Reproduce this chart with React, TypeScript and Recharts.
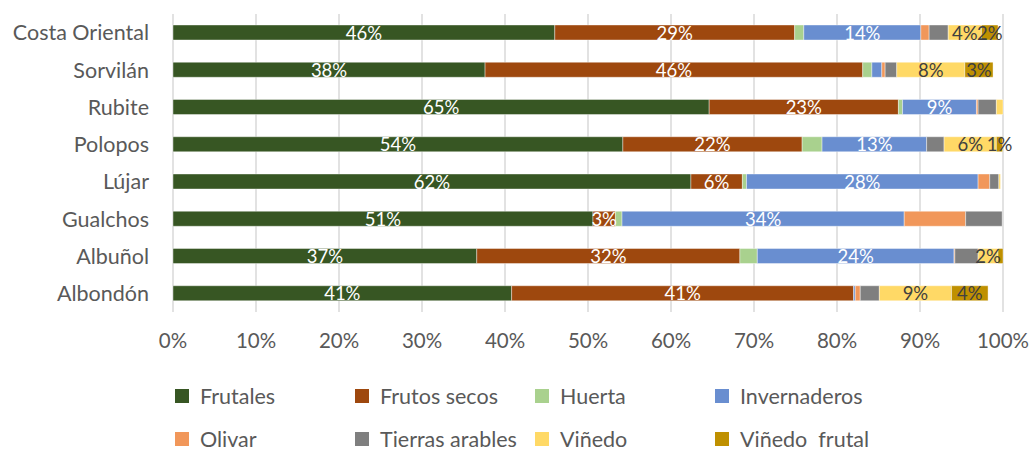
import React from 'react';
import { BarChart, Bar, XAxis, YAxis, CartesianGrid, LabelList, Legend } from 'recharts';

const categories = ['Costa Oriental', 'Sorvilán', 'Rubite', 'Polopos', 'Lújar', 'Gualchos', 'Albuñol', 'Albondón'];

const frutales = [46.0, 37.6, 64.6, 54.2, 62.4, 50.6, 36.6, 40.8];
const frutosSecos = [28.9, 45.5, 22.8, 21.6, 6.2, 2.7, 31.7, 41.2];
const huerta = [1.1, 1.1, 0.5, 2.4, 0.5, 0.8, 2.1, 0];
const invernaderos = [14.1, 1.2, 8.9, 12.6, 27.9, 34.0, 23.7, 0.2];
const olivar = [1.0, 0.4, 0.2, 0, 1.4, 7.4, 0.1, 0.6];
const tierrasArables = [2.3, 1.4, 2.2, 2.1, 1.1, 4.4, 2.8, 2.3];
const vinedo = [4.0, 8.2, 0.8, 6.3, 0.2, 0, 2.4, 8.7];
const vinedoFrutal = [2.0, 3.4, 0, 0.75, 0, 0, 0.6, 4.4];

const xTicks = [0, 10, 20, 30, 40, 50, 60, 70, 80, 90, 100];

const seriesNames = ['Frutales', 'Frutos secos', 'Huerta', 'Invernaderos', 'Olivar', 'Tierras arables', 'Viñedo', 'Viñedo  frutal'];
const seriesValues = [frutales, frutosSecos, huerta, invernaderos, olivar, tierrasArables, vinedo, vinedoFrutal];
const seriesColors = ['#375623', '#9E480E', '#A9D18E', '#698ED0', '#F1975A', '#7F7F7F', '#FFD966', '#BF9000'];
const labelColors = ['#FFFFFF', '#FFFFFF', null, '#FFFFFF', null, null, '#404040', '#404040'];
const labelMin = [0, 0, Infinity, 5, Infinity, Infinity, 2, 0.7];

const keys = seriesNames.map((_, i) => 's' + i);

const data = categories.map((c, ci) => {
  const row: Record<string, any> = { name: c };
  seriesValues.forEach((arr, si) => {
    row[keys[si]] = arr[ci];
  });
  return row;
});

const FONT = 'Lato, "Open Sans", sans-serif';

const makeLabel = (si: number) => (props: any) => {
  const { x, y, width, height, value } = props;
  if (value == null || value <= 0 || value < labelMin[si]) return null;
  return (
    <text
      x={Number(x) + Number(width) / 2}
      y={Number(y) + Number(height) / 2}
      textAnchor="middle"
      dominantBaseline="central"
      fill={labelColors[si] || '#404040'}
      fontSize={18.5}
      fontFamily={FONT}
    >
      {Math.round(value) + '%'}
    </text>
  );
};

const LegendContent = () => (
  <div style={{ position: 'relative', width: 1030, height: 100, fontFamily: FONT }}>
    {seriesNames.map((n, i) => {
      const col = i % 4;
      const row = Math.floor(i / 4);
      return (
        <div
          key={n}
          style={{
            position: 'absolute',
            left: 175 + col * 180,
            top: 39 + row * 43,
            height: 14,
            display: 'flex',
            alignItems: 'center',
            whiteSpace: 'pre',
          }}
        >
          <span style={{ display: 'inline-block', width: 14, height: 14, background: seriesColors[i] }} />
          <span style={{ marginLeft: 11, fontSize: 21.5, color: '#595959', lineHeight: '14px' }}>{n}</span>
        </div>
      );
    })}
  </div>
);

export default function App() {
  return (
    <div style={{ position: 'absolute', left: 0, top: 0, width: 1030, height: 450, background: '#fff' }}>
      <BarChart
        width={1030}
        height={450}
        data={data}
        layout="vertical"
        margin={{ top: 14, right: 27, bottom: 0, left: 0 }}
        barSize={15}
      >
        <CartesianGrid horizontal={false} stroke="#D9D9D9" strokeWidth={1.5} />
        <XAxis
          type="number"
          domain={[0, 100]}
          ticks={xTicks}
          tickFormatter={(v: number) => v + '%'}
          axisLine={false}
          tickLine={false}
          tickSize={0}
          tickMargin={21}
          height={38}
          tick={{ fill: '#595959', fontSize: 20.5, fontFamily: FONT }}
          interval={0}
        />
        <YAxis
          type="category"
          dataKey="name"
          width={173}
          axisLine={false}
          tickLine={false}
          tickSize={0}
          tickMargin={24}
          tick={{ fill: '#595959', fontSize: 21.5, fontFamily: FONT }}
          interval={0}
        />
        <Legend verticalAlign="bottom" align="left" height={100} content={() => <LegendContent />} wrapperStyle={{ left: 0, width: 1030 }} />
        {keys.map((k, si) => (
          <Bar
            key={k}
            dataKey={k}
            name={seriesNames[si]}
            stackId="a"
            fill={seriesColors[si]}
            stroke="#FFFFFF"
            strokeWidth={0.4}
            isAnimationActive={false}
          >
            {labelColors[si] ? <LabelList dataKey={k} content={makeLabel(si)} /> : null}
          </Bar>
        ))}
      </BarChart>
    </div>
  );
}
